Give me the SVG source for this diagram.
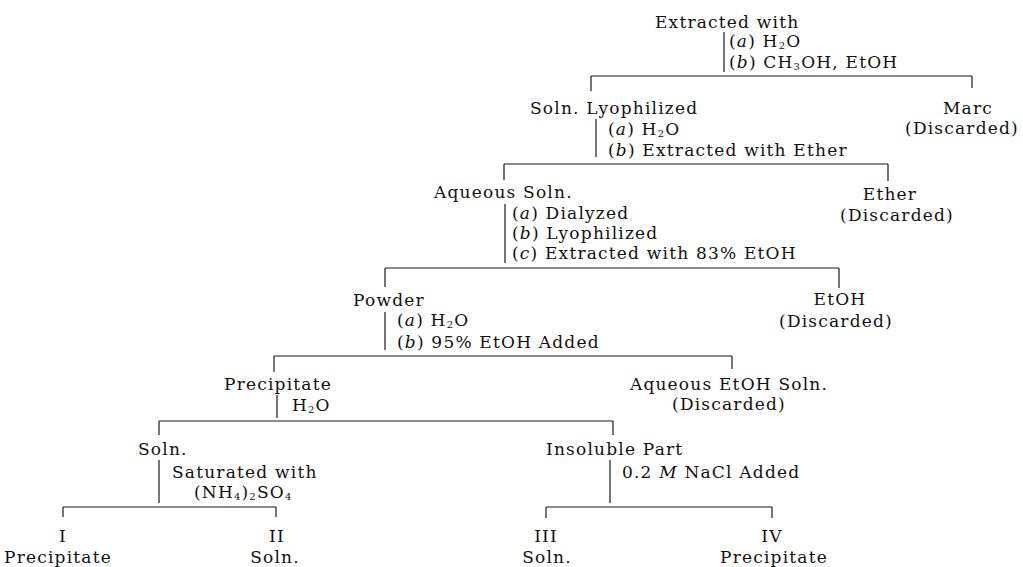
<svg xmlns="http://www.w3.org/2000/svg" width="1023" height="567" viewBox="0 0 1023 567">
<style>
.t{font-family:"DejaVu Serif","Liberation Serif",serif;font-size:17px;letter-spacing:1.2px;fill:#111111}
.m{text-anchor:middle}
.i{font-style:italic}
.s{font-size:10px}
.c line{stroke:#1a1a1a;stroke-width:1.2;fill:none}
</style>
<rect width="1023" height="567" fill="#ffffff"/>
<g class="c" id="connectors">
<line x1="724" y1="32" x2="724" y2="72"/>
<line x1="591" y1="76" x2="972" y2="76"/>
<line x1="591" y1="76" x2="591" y2="91"/>
<line x1="972" y1="76" x2="972" y2="88"/>
<line x1="596" y1="119" x2="596" y2="157"/>
<line x1="504" y1="164" x2="888" y2="164"/>
<line x1="504" y1="164" x2="504" y2="180"/>
<line x1="888" y1="164" x2="888" y2="181"/>
<line x1="505" y1="204" x2="505" y2="263"/>
<line x1="385" y1="268" x2="839" y2="268"/>
<line x1="385" y1="268" x2="385" y2="287"/>
<line x1="839" y1="268" x2="839" y2="288"/>
<line x1="385" y1="312" x2="385" y2="350"/>
<line x1="274" y1="356" x2="732" y2="356"/>
<line x1="274" y1="356" x2="274" y2="372"/>
<line x1="732" y1="356" x2="732" y2="369"/>
<line x1="277" y1="395" x2="277" y2="418"/>
<line x1="159" y1="421" x2="613" y2="421"/>
<line x1="159" y1="421" x2="159" y2="435"/>
<line x1="613" y1="421" x2="613" y2="435"/>
<line x1="159" y1="460" x2="159" y2="503"/>
<line x1="63" y1="507" x2="276" y2="507"/>
<line x1="63" y1="507" x2="63" y2="517"/>
<line x1="276" y1="507" x2="276" y2="517"/>
<line x1="610" y1="460" x2="610" y2="503"/>
<line x1="546" y1="507" x2="772" y2="507"/>
<line x1="546" y1="507" x2="546" y2="518"/>
<line x1="772" y1="507" x2="772" y2="518"/>
</g>
<g id="extracted">
<text class="t" x="655" y="28">Extracted with</text>
<text class="t" x="729" y="47">(<tspan class="i">a</tspan>)  H<tspan class="s" dy="2">2</tspan><tspan dy="-2">O</tspan></text>
<text class="t" x="729" y="68">(<tspan class="i">b</tspan>)  CH<tspan class="s" dy="2">3</tspan><tspan dy="-2">OH, EtOH</tspan></text>
</g>
<g id="soln-lyophilized">
<text class="t" x="530" y="114">Soln. Lyophilized</text>
<text class="t" x="608" y="135">(<tspan class="i">a</tspan>)  H<tspan class="s" dy="2">2</tspan><tspan dy="-2">O</tspan></text>
<text class="t" x="608" y="156">(<tspan class="i">b</tspan>)  Extracted with Ether</text>
</g>
<g id="marc">
<text class="t m" x="968" y="114">Marc</text>
<text class="t m" x="962" y="134">(Discarded)</text>
</g>
<g id="aqueous-soln">
<text class="t" x="434" y="198">Aqueous Soln.</text>
<text class="t" x="512" y="219">(<tspan class="i">a</tspan>)  Dialyzed</text>
<text class="t" x="512" y="239">(<tspan class="i">b</tspan>)  Lyophilized</text>
<text class="t" x="512" y="259">(<tspan class="i">c</tspan>)  Extracted with 83% EtOH</text>
</g>
<g id="ether">
<text class="t m" x="890" y="200">Ether</text>
<text class="t m" x="897" y="221">(Discarded)</text>
</g>
<g id="powder">
<text class="t" x="353" y="306">Powder</text>
<text class="t" x="397" y="326">(<tspan class="i">a</tspan>)  H<tspan class="s" dy="2">2</tspan><tspan dy="-2">O</tspan></text>
<text class="t" x="397" y="348">(<tspan class="i">b</tspan>)  95% EtOH Added</text>
</g>
<g id="etoh">
<text class="t m" x="840" y="305">EtOH</text>
<text class="t m" x="836" y="327">(Discarded)</text>
</g>
<g id="precipitate">
<text class="t" x="224" y="390">Precipitate</text>
<text class="t" x="292" y="411">H<tspan class="s" dy="2">2</tspan><tspan dy="-2">O</tspan></text>
</g>
<g id="aqueous-etoh">
<text class="t m" x="729" y="390">Aqueous EtOH Soln.</text>
<text class="t m" x="729" y="410">(Discarded)</text>
</g>
<g id="soln">
<text class="t" x="138" y="455">Soln.</text>
<text class="t" x="172" y="478">Saturated with</text>
<text class="t" x="194" y="498">(NH<tspan class="s" dy="2">4</tspan><tspan dy="-2">)</tspan><tspan class="s" dy="2">2</tspan><tspan dy="-2">SO</tspan><tspan class="s" dy="2">4</tspan></text>
</g>
<g id="insoluble-part">
<text class="t" x="546" y="455">Insoluble Part</text>
<text class="t" x="622" y="478">0.2 <tspan class="i">M</tspan> NaCl Added</text>
</g>
<g id="fraction-i">
<text class="t m" x="63" y="542">I</text>
<text class="t m" x="58" y="563">Precipitate</text>
</g>
<g id="fraction-ii">
<text class="t m" x="277" y="542">II</text>
<text class="t m" x="275" y="563">Soln.</text>
</g>
<g id="fraction-iii">
<text class="t m" x="546" y="542">III</text>
<text class="t m" x="547" y="563">Soln.</text>
</g>
<g id="fraction-iv">
<text class="t m" x="772" y="542">IV</text>
<text class="t m" x="774" y="563">Precipitate</text>
</g>
</svg>
